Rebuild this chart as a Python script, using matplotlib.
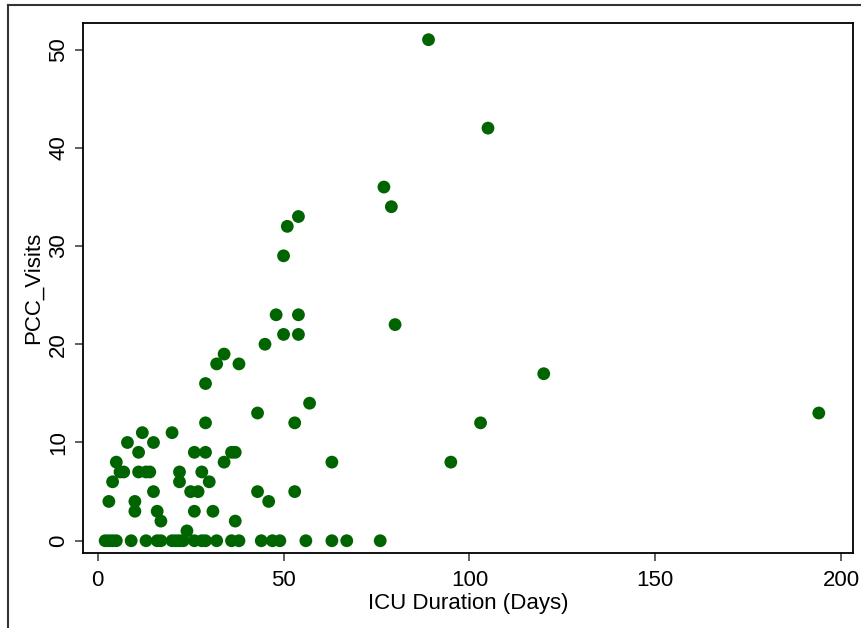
import matplotlib
matplotlib.use("Agg")
import matplotlib.pyplot as plt
from matplotlib.lines import Line2D
import numpy as np

plt.rcParams['font.family'] = ['Liberation Sans', 'DejaVu Sans']

# ICU duration (days) vs PCC visits
icu_days = [89, 105, 77, 79, 54, 51, 50, 48, 54, 80, 50, 54, 45, 34, 32, 38,
            120, 29, 57, 43, 194, 29, 53, 103, 12, 20, 8, 15, 11, 26, 29, 36,
            37, 5, 34, 63, 95, 6, 7, 11, 13, 14, 22, 28, 4, 22, 30, 15, 25,
            27, 43, 53, 3, 10, 46, 10, 16, 26, 31, 17, 37, 24]
pcc_visits = [51, 42, 36, 34, 33, 32, 29, 23, 23, 22, 21, 21, 20, 19, 18, 18,
              17, 16, 14, 13, 13, 12, 12, 12, 11, 11, 10, 10, 9, 9, 9, 9,
              9, 8, 8, 8, 8, 7, 7, 7, 7, 7, 7, 7, 6, 6, 6, 5, 5,
              5, 5, 5, 4, 4, 4, 3, 3, 3, 3, 2, 2, 1]

# patients with zero visits
zero_days = [2, 3, 4, 5, 9, 13, 16, 17, 20, 21, 22, 23, 26, 28, 29, 32, 36,
             38, 44, 47, 49, 56, 63, 67, 76]

x = np.array(icu_days + zero_days)
y = np.array(pcc_visits + [0] * len(zero_days))

x_ticks = [0, 50, 100, 150, 200]
y_ticks = [0, 10, 20, 30, 40, 50]

fig = plt.figure(figsize=(8.61, 6.28), dpi=100)
ax = fig.add_axes([0.0964, 0.1194, 0.8943, 0.844])

ax.scatter(x, y, s=85, color='#006400', edgecolors='none', zorder=3)

ax.set_xlim(-3.96, 203.2)
ax.set_ylim(-1.25, 52.7)
ax.set_xticks(x_ticks)
ax.set_yticks(y_ticks)
ax.tick_params(axis='both', labelsize=16, length=6, width=1.2, color='#444444')
ax.tick_params(axis='x', pad=6)
ax.tick_params(axis='y', pad=4)
plt.setp(ax.get_yticklabels(), rotation=90, va='center')

for sp in ax.spines.values():
    sp.set_linewidth(1.3)
    sp.set_color('black')

ax.set_xlabel('ICU Duration (Days)', fontsize=16, labelpad=2)
ax.set_ylabel('PCC_Visits', fontsize=16, labelpad=3)

# outer border (partially cropped in the original)
fig.add_artist(Line2D([8 / 861, 1.0], [1 - 5 / 628, 1 - 5 / 628],
                      color='#333333', lw=1.5, transform=fig.transFigure))
fig.add_artist(Line2D([8 / 861, 8 / 861], [0.0, 1 - 5 / 628],
                      color='#333333', lw=1.5, transform=fig.transFigure))

fig.savefig('out.png', dpi=100)
